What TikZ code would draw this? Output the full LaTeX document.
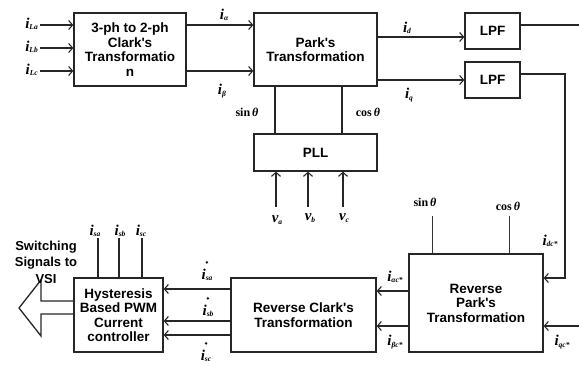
\documentclass[tikz,border=0pt]{standalone}
\usepackage{fontspec}
\setmainfont{Liberation Serif}
\newfontfamily\hv{Liberation Sans}
\usetikzlibrary{arrows.meta,calc}
\newcommand\vr[2]{{\fontsize{15}{15}\selectfont\bfseries\itshape #1}{\fontsize{7.5}{7.5}\selectfont\bfseries\itshape\raisebox{-0.4ex}{#2}}}
\newcommand\trig[1]{{\fontsize{12}{12}\selectfont\bfseries #1\,\textit{θ}}}
\tikzset{
  box/.style={draw=black!85, line width=1.3pt, align=center, inner sep=0pt,
    font=\hv\bfseries\fontsize{13.5}{14.5}\selectfont},
  ln/.style={draw=black!85, line width=1.3pt},
  thinln/.style={draw=black!80, line width=0.9pt},
  arr/.style={ln, -{Straight Barb[length=4pt,width=9pt,line width=1.1pt]}},
  lab/.style={inner sep=0pt},
  stardot/.style={fill=black!90},
}
\begin{document}
\begin{tikzpicture}[x=1pt,y=-1pt]
\useasboundingbox (0,0) rectangle (579,365);
% blocks
\node[box, minimum width=112pt, minimum height=73pt] (clark) at (130,49.5) {3-ph to 2-ph\\Clark's\\Transformatio\\n};
\node[box, minimum width=123pt, minimum height=73pt] (park) at (315.5,49.5) {Park's\\Transformation};
\node[box, minimum width=55pt, minimum height=36pt] (lpf1) at (492.5,31) {LPF};
\node[box, minimum width=55pt, minimum height=36pt] (lpf2) at (492.5,80) {LPF};
\node[box, minimum width=123pt, minimum height=37pt] (pll) at (315.5,152.5) {PLL};
\node[box, minimum width=134pt, minimum height=98pt] (rpark) at (476,303) {Reverse\\Park's\\Transformation};
\node[box, minimum width=145pt, minimum height=74pt] (rclark) at (303.5,315) {Reverse Clark's\\Transformation};
\node[box, minimum width=89pt, minimum height=74pt] (hyst) at (118.5,315) {Hysteresis\\Based PWM\\Current\\controller};
% helper coordinates
\coordinate (inA) at (40,25);
\coordinate (inB) at (40,48);
\coordinate (inC) at (40,71);
\coordinate (ya) at (0,25);
\coordinate (yb) at (0,71);
\coordinate (yd) at (0,37);
\coordinate (o1) at (579,25);
\coordinate (bend) at (565,74);
\coordinate (ydc) at (0,278);
\coordinate (iqin) at (579,326);
\coordinate (xs) at (275,0);
\coordinate (xc) at (342,0);
\coordinate (va) at (276,207);
\coordinate (vb) at (308,207);
\coordinate (vc) at (343,207);
\coordinate (s2) at (432,216);
\coordinate (c2) at (509,216);
\coordinate (yac) at (0,291);
\coordinate (ybc) at (0,326);
\coordinate (ysa) at (0,289);
\coordinate (ysb) at (0,321);
\coordinate (ysc) at (0,335);
\coordinate (ta) at (98,238);
\coordinate (tb) at (119,238);
\coordinate (tc) at (142,238);
\coordinate (sh1) at (0,301);
\coordinate (sh2) at (0,314);
% connectors
\draw[arr] (inA) -- (clark.west |- inA);
\draw[arr] (inB) -- (clark.west |- inB);
\draw[arr] (inC) -- (clark.west |- inC);
\draw[arr] (clark.east |- ya) -- (park.west |- ya);
\draw[arr] (clark.east |- yb) -- (park.west |- yb);
\draw[arr] (park.east |- yd) -- (lpf1.west |- yd);
\draw[arr] (park.east |- lpf2.west) -- (lpf2.west);
\draw[ln] (lpf1.east |- o1) -- (o1);
\draw[arr] (lpf2.east |- bend) -- (bend) |- (rpark.east |- ydc);
\draw[arr] (iqin) -- (rpark.east |- iqin);
\draw[ln] (park.south -| xs) -- (pll.north -| xs);
\draw[ln] (park.south -| xc) -- (pll.north -| xc);
\draw[arr] (va) -- (pll.south -| va);
\draw[arr] (vb) -- (pll.south -| vb);
\draw[arr] (vc) -- (pll.south -| vc);
\draw[thinln] (s2) -- (rpark.north -| s2);
\draw[thinln] (c2) -- (rpark.north -| c2);
\draw[arr] (rpark.west |- yac) -- (rclark.east |- yac);
\draw[arr] (rpark.west |- ybc) -- (rclark.east |- ybc);
\draw[arr] (rclark.west |- ysa) -- (hyst.east |- ysa);
\draw[arr] (rclark.west |- ysb) -- (hyst.east |- ysb);
\draw[arr] (rclark.west |- ysc) -- (hyst.east |- ysc);
\draw[ln] (ta) -- (hyst.north -| ta);
\draw[ln] (tb) -- (hyst.north -| tb);
\draw[ln] (tc) -- (hyst.north -| tc);
\draw[ln, line join=miter] (hyst.west |- sh1) -- (41,301) -- (41,280) -- (19,308) -- (41,336) -- (41,314) -- (hyst.west |- sh2);
% labels
\node[lab, anchor=east] (lLa) at (38,24) {\vr{i}{La}};
\node[lab, anchor=east] (lLb) at (38,47) {\vr{i}{Lb}};
\node[lab, anchor=east] (lLc) at (38,70) {\vr{i}{Lc}};
\node[lab] (lal) at (224,15) {\vr{i}{α}};
\node[lab] (lbe) at (222,91) {\vr{i}{β}};
\node[lab] (lid) at (407,28) {\vr{i}{d}};
\node[lab] (liq) at (409,95) {\vr{i}{q}};
\node[lab] (ls1) at (247,112) {\trig{sin}};
\node[lab] (lc1) at (368,112) {\trig{cos}};
\node[lab] (lva) at (277,220) {\vr{v}{a}};
\node[lab] (lvb) at (310,218) {\vr{v}{b}};
\node[lab] (lvc) at (344,218) {\vr{v}{c}};
\node[lab] (ls2) at (425,202) {\trig{sin}};
\node[lab] (lc2) at (508,206) {\trig{cos}};
\node[lab] (ldc) at (550,241) {\vr{i}{dc*}};
\node[lab] (lqc) at (562,342) {\vr{i}{qc*}};
\node[lab] (lac) at (395,277) {\vr{i}{αc*}};
\node[lab] (lbc) at (395,342) {\vr{i}{βc*}};
\node[lab] (lsa) at (207,275) {\vr{i}{sa}};
\node[lab] (lsb) at (208,311) {\vr{i}{sb}};
\node[lab] (lsc) at (206,356) {\vr{i}{sc}};
\fill[stardot] ($(lsa.north west)+(5.5,-6.5)$) circle (1.4pt);
\fill[stardot] ($(lsb.north west)+(5.5,-6.5)$) circle (1.4pt);
\fill[stardot] ($(lsc.north west)+(5.5,-6.5)$) circle (1.4pt);
\node[lab] (tsa) at (95,231) {\vr{i}{sa}};
\node[lab] (tsb) at (120,231) {\vr{i}{sb}};
\node[lab] (tsc) at (141,231) {\vr{i}{sc}};
\node[lab, align=center, font=\hv\bfseries\fontsize{13}{16.5}\selectfont] (sw) at (46,262) {Switching\\Signals to\\VSI};
\end{tikzpicture}
\end{document}
